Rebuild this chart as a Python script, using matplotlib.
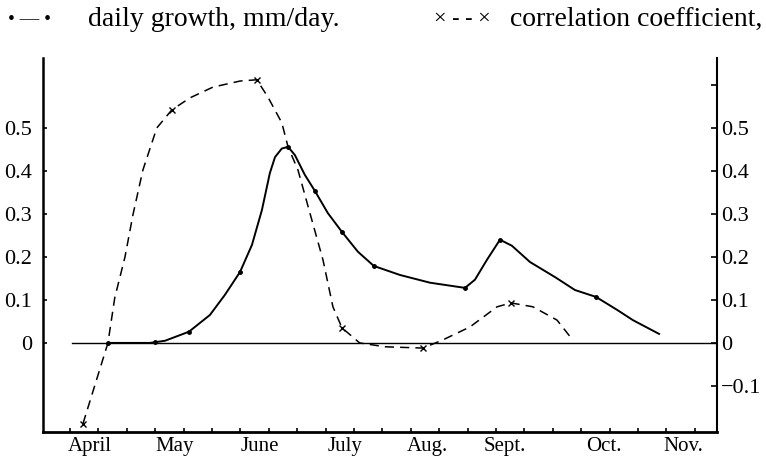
import matplotlib.pyplot as plt
import numpy as np

plt.rcParams['font.family'] = ['Liberation Serif', 'DejaVu Serif']

# x = days since 1 April, y = value
# daily growth, mm/day (solid line, dots at observations)
growth_day = [13.4, 21.1, 28.2, 33.5, 41.9, 49.3, 54.6, 59.9, 64.1, 67.6, 70.4, 72.2,
              74.6, 76.8, 79.2, 82.7, 86.3, 90.8, 95.8, 101.4, 107.0, 116.2, 126.8,
              139.1, 142.6, 146.8, 151.4, 155.6, 162.0, 170.8, 177.8, 185.2, 192.6,
              198.2, 207.4]
growth_val = [0.0, 0.0, 0.0, 0.005, 0.026, 0.065, 0.112, 0.165, 0.228, 0.309, 0.395, 0.432,
              0.452, 0.456, 0.437, 0.391, 0.353, 0.302, 0.258, 0.212, 0.179, 0.158, 0.140,
              0.128, 0.147, 0.193, 0.240, 0.226, 0.188, 0.153, 0.123, 0.107, 0.077,
              0.053, 0.021]
growth_obs_day = [13.4, 29.9, 41.9, 59.9, 76.8, 86.3, 95.8, 107.0, 139.1, 151.4, 185.2]
growth_obs_val = [0.0, 0.002, 0.026, 0.165, 0.456, 0.353, 0.258, 0.179, 0.128, 0.240, 0.107]

# correlation coefficient (dashed line, crosses at observations)
corr_day = [4.6, 13.4, 15.8, 19.4, 22.2, 25.7, 30.6, 35.9, 42.3, 50.4, 59.9, 65.8, 69.7,
            74.6, 76.8, 80.3, 84.5, 89.1, 92.6, 95.8, 102.0, 111.0, 124.3, 131.3, 140.8,
            150.4, 155.3, 163.0, 171.5, 176.4]
corr_val = [-0.188, 0.0, 0.105, 0.200, 0.298, 0.402, 0.500, 0.542, 0.570, 0.595, 0.609,
            0.612, 0.572, 0.512, 0.456, 0.402, 0.302, 0.193, 0.084, 0.035, 0.0, -0.009,
            -0.012, 0.007, 0.037, 0.084, 0.093, 0.084, 0.053, 0.012]
corr_obs_day = [4.6, 35.9, 65.8, 95.8, 124.3, 155.3]
corr_obs_val = [-0.188, 0.542, 0.612, 0.035, -0.012, 0.093]

months = ['April', 'May', 'June', 'July', 'Aug.', 'Sept.', 'Oct.', 'Nov.']
month_pos = [7, 37, 67, 97, 126, 153, 188, 216]
left_ticks = [0, 0.1, 0.2, 0.3, 0.4, 0.5]
left_labels = ['0', '0.1', '0.2', '0.3', '0.4', '0.5']
right_ticks = [-0.1, 0, 0.1, 0.2, 0.3, 0.4, 0.5, 0.6]
right_labels = ['\u22120.1', '0', '0.1', '0.2', '0.3', '0.4', '0.5', '']

fig = plt.figure(figsize=(7.66, 4.59), dpi=100)
ax = fig.add_axes([0.056, 0.059, 0.880, 0.815])

ax.set_xlim(-9.5, 227.8)
ax.set_ylim(-0.207, 0.663)

# linea del cero
ax.plot([0.7, 227.8], [0, 0], color='black', lw=1.0)

ax.plot(growth_day, growth_val, color='black', lw=1.4)
ax.plot(growth_obs_day, growth_obs_val, 'o', color='black', ms=2.5)

ax.plot(corr_day, corr_val, color='black', lw=1.1, dashes=(6, 4))
ax.plot(corr_obs_day, corr_obs_val, 'x', color='black', ms=4, mew=1.0)

ax.spines['top'].set_visible(False)
ax.spines['left'].set_linewidth(1.8)
ax.spines['bottom'].set_linewidth(2.0)
ax.spines['right'].set_linewidth(1.5)

ax.set_yticks(left_ticks)
ax.set_yticklabels(left_labels, fontsize=16)
ax.tick_params(axis='y', direction='in', length=3, width=1.2, pad=8)

ax.set_xticks(month_pos)
ax.set_xticklabels(months, fontsize=15)
ax.set_xticks(np.arange(0, 225, 10), minor=True)
ax.tick_params(axis='x', which='major', length=0, pad=4)
ax.tick_params(axis='x', which='minor', direction='in', length=3, width=1.2)

ax2 = ax.twinx()
ax2.set_ylim(ax.get_ylim())
ax2.set_yticks(right_ticks)
ax2.set_yticklabels(right_labels, fontsize=16)
ax2.tick_params(axis='y', direction='in', length=4, width=1.2, pad=3)
for s in ax2.spines.values():
    s.set_visible(False)

# leyenda como texto arriba
fig.text(0.010, 0.958, '\u2022 \u2014 \u2022', fontsize=14, va='center')
fig.text(0.115, 0.958, 'daily growth, mm/day.', fontsize=20, va='center')
fig.text(0.640, 0.958, '\u00d7 - - \u00d7', fontsize=16, va='center', ha='right',
         fontweight='light')
fig.text(0.995, 0.958, 'correlation coefficient,', fontsize=20, va='center', ha='right')

fig.savefig('out.png', dpi=100)
